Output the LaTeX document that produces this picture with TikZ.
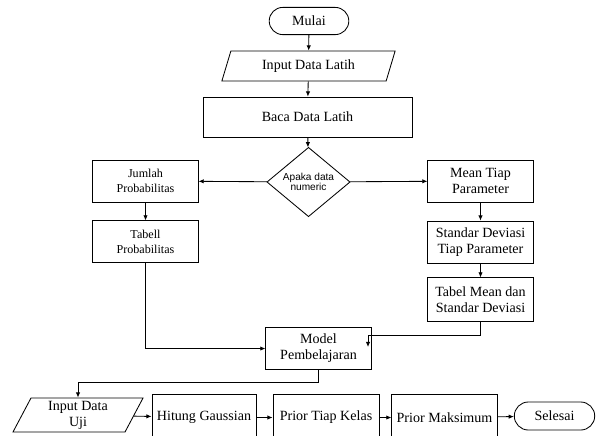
\documentclass[tikz,border=0pt]{standalone}
\usepackage{fontspec}
\setmainfont{Liberation Serif}
\newfontfamily\kecilsans{Liberation Sans}
\usetikzlibrary{shapes.geometric,shapes.misc,arrows.meta}
\begin{document}
\begin{tikzpicture}[x=0.025cm,y=-0.025cm,
    line width=0.6pt,
    arr/.style={-{Latex[length=1.3mm,width=1.1mm]}},
    proses/.style={draw,rectangle,align=center,inner sep=1pt,
      font=\fontsize{10}{11.5}\selectfont},
    proseskecil/.style={proses,font=\fontsize{8.6}{10.5}\selectfont},
    terminal/.style={draw,rounded rectangle,inner sep=1pt,
      minimum width=2.06cm,minimum height=0.68cm,
      font=\fontsize{10}{11.5}\selectfont},
    masukan/.style={draw,trapezium,trapezium left angle=60,
      trapezium right angle=120,trapezium stretches body,
      align=center,inner sep=1pt,font=\fontsize{10}{11.5}\selectfont},
    keputusan/.style={draw,diamond,align=center,inner sep=0pt,
      minimum width=2.08cm,minimum height=1.35cm,
      font=\kecilsans\fontsize{7.2}{7.6}\selectfont}]
% \clip (0,0) rectangle (602,435);
\clip (0,0) rectangle (602,435);

% Drawing start and training data
\node[terminal] (mulai) at (309,21) {Mulai};
\node[masukan,minimum width=4.33cm,minimum height=0.75cm] (inlatih) at (308.5,66) {Input Data Latih};
\node[proses,minimum width=5.22cm,minimum height=1cm] (baca) at (307.5,117) {Baca Data Latih};
\node[keputusan] (cek) at (308.5,182) {Apaka data\\numeric};

% Drawing left branch
\node[proseskecil,minimum width=2.63cm,minimum height=1.05cm] (jumlah) at (145.5,181) {Jumlah\\Probabilitas};
\node[proseskecil,minimum width=2.63cm,minimum height=1.03cm] (tabell) at (145.5,241.5) {Tabell\\Probabilitas};

% Drawing right branch
\node[proses,minimum width=2.63cm,minimum height=1.05cm] (mean) at (480.5,181) {Mean Tiap\\Parameter};
\node[proses,minimum width=2.63cm,minimum height=1.05cm] (stdev) at (480.5,242) {Standar Deviasi\\Tiap Parameter};
\node[proses,minimum width=2.63cm,minimum height=1.08cm] (tabmean) at (480.5,299.5) {Tabel Mean dan\\Standar Deviasi};

% Drawing model
\node[proses,minimum width=2.63cm,minimum height=1.03cm] (model) at (318.5,348.5) {Model\\Pembelajaran};
\coordinate (tekuk) at (368,335);
\coordinate (masuk) at (368,347);
\coordinate (jalur) at (318.5,382);

% Drawing test data row
\node[masukan,minimum width=3.25cm,minimum height=0.85cm] (inuji) at (78,415) {Input Data\\Uji};
\node[proses,minimum width=2.6cm,minimum height=1.13cm] (hitung) at (204,417.5) {Hitung Gaussian};
\node[proses,minimum width=2.65cm,minimum height=1.13cm] (priorkelas) at (326,417.5) {Prior Tiap Kelas};
\node[proses,minimum width=2.63cm,minimum height=1.13cm] (priormaks) at (444.5,417.5) {Prior Maksimum};
\node[terminal,minimum width=2.08cm,minimum height=0.7cm] (selesai) at (554.5,416) {Selesai};

% Drawing connectors
\draw[arr] (mulai) -- (inlatih);
\draw[arr] (inlatih) -- (baca);
\draw[arr] (baca) -- (cek);
\draw[arr] (cek) -- (jumlah);
\draw[arr] (cek) -- (mean);
\draw[arr] (jumlah) -- (tabell);
\draw[arr] (mean) -- (stdev);
\draw[arr] (stdev) -- (tabmean);
\draw[arr] (tabell.south) |- (model.west);
\draw[arr] (tabmean.south) |- (tekuk) -- (masuk);
\draw[arr] (model.south) -- (jalur) -| (inuji.north);
\draw[arr] (inuji) -- (hitung);
\draw[arr] (hitung) -- (priorkelas);
\draw[arr] (priorkelas) -- (priormaks);
\draw[arr] (priormaks) -- (selesai);
\end{tikzpicture}
\end{document}
